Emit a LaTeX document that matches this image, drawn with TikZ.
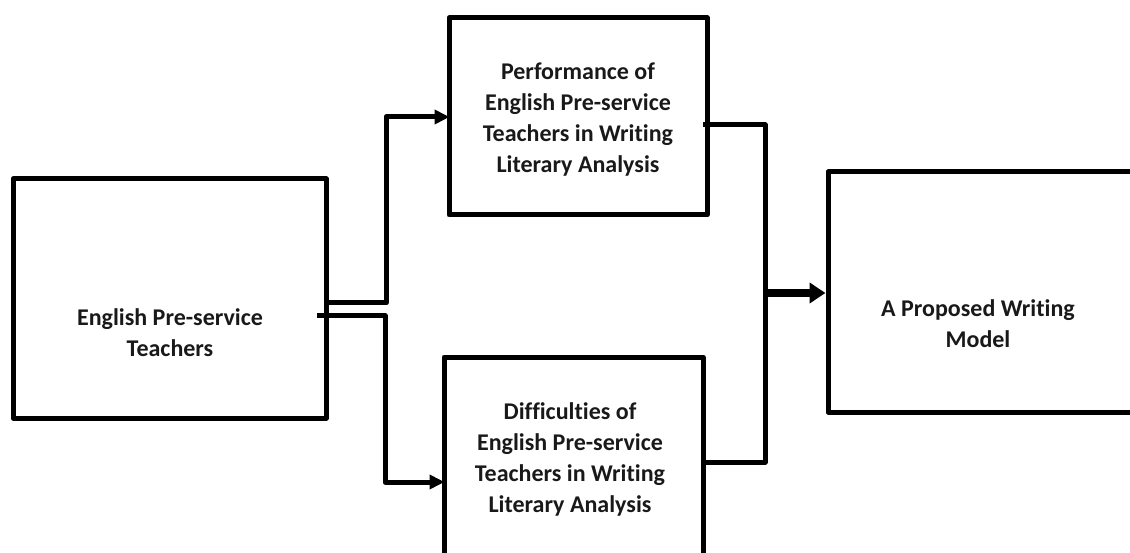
\documentclass[tikz,border=0pt]{standalone}
\usepackage{fontspec}
\setmainfont{Carlito}[Ligatures=NoCommon]
\usetikzlibrary{arrows.meta,calc}
\tikzset{
  box/.style={draw=black,line width=5pt,rectangle,inner sep=0pt,line join=round},
  lbl/.style={font=\bfseries\fontsize{24}{31}\selectfont,align=center,text=black!90,inner sep=0pt},
  conn/.style={draw=black,line width=5pt,line join=round},
  tip/.style={-{Triangle[length=15pt,width=14pt]}},
  bigtip/.style={-{Triangle[length=16pt,width=20pt]}}
}
\begin{document}
\begin{tikzpicture}[x=1pt,y=-1pt]
\useasboundingbox (0,0) rectangle (1130,553);
\begin{scope}
\clip (0,0) rectangle (1130,553);
% boxes
\node[box,minimum width=313pt,minimum height=239pt] (A) at (169.5,298.5) {};
\node[box,minimum width=258pt,minimum height=197pt] (B) at (578,116.5) {};
\node[box,minimum width=259pt,minimum height=213pt] (C) at (573.5,463.5) {};
\node[box,minimum width=312pt,minimum height=240pt] (D) at (984,292) {};
% texts
\node[lbl] (tA) at (170,333) {English Pre-service\\Teachers};
\node[lbl] (tB) at (578,120) {Performance of\\English Pre-service\\Teachers in Writing\\Literary Analysis};
\node[lbl] (tC) at (570,459) {Difficulties of\\English Pre-service\\Teachers in Writing\\Literary Analysis};
\node[lbl] (tD) at (978,324) {A Proposed Writing\\Model};
% junction points
\coordinate (s1) at (A.east |- 0,303);
\coordinate (s2) at (317,316);
\coordinate (j) at (765,293);
% connectors
\draw[conn,tip] (s1) -- (386,303) |- ([xshift=3pt]B.west |- 0,117);
\draw[conn,tip] (s2) -- (385,316) |- ([xshift=3pt]C.west |- 0,482);
\draw[conn] (703,125) -| (j);
\draw[conn] (C.east |- 0,462) -| (j);
\draw[conn,line width=8pt,bigtip] (j) -- (D.west |- j);
\end{scope}
\end{tikzpicture}
\end{document}
